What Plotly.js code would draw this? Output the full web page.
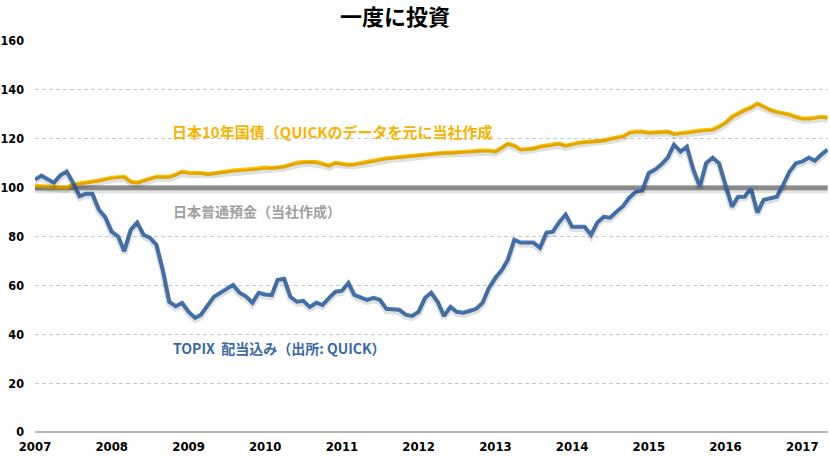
<!DOCTYPE html>
<html>
<head>
<meta charset="utf-8">
<script src="https://cdn.plot.ly/plotly-3.0.1.min.js"></script>
<style>
html,body{margin:0;padding:0;background:#fff;}
#chart{width:830px;height:458px;}
</style>
</head>
<body>
<div id="chart"></div>
<script>
// ---- Data (monthly, Jan 2007 .. May 2017) ----
const startYear = 2007;
const startMonth = 1;

const topix = [
  103.3,104.9,103.5,102,105,106.6,102,96.5,97.5,97.5,91,88,
  82,80,74,82.8,85.7,80.7,79.5,76.6,66,53.3,51.5,52.9,
  49.2,46.7,48,52,55.3,57,58.5,60.2,57,55.5,52.9,57,
  56.3,56,62.3,62.7,55.3,53.3,53.7,51.2,52.9,52,54.9,57.4,
  57.8,61,56.1,54.9,54.1,54.9,54.1,50.4,50.2,50,48,47.5,
  49.2,54.9,57,53.3,47.5,51.2,49.2,48.8,49.6,50.4,52.9,59,
  63.1,66.4,70.5,78.7,77.5,77.5,77.5,75.4,81.6,82,86,89,
  84,84,84,80.7,85.7,88.1,87.7,90.2,92.5,96,98.4,98.8,
  106,107.5,109.4,112.3,117.6,114.8,116.8,107.4,100.4,110,112.3,110,
  100.4,92.2,96.3,96.3,99.6,89.8,95,95.5,96.3,101,106.6,110,
  110.7,112.3,111,113.5,115.6
];

const jgb = [
  100.8,100.6,100.4,100.2,100,100,101.3,101.6,102,102.5,102.9,103.5,
  104.1,104.3,104.5,102.5,102,102.9,103.5,104.5,104.5,104.5,105.3,106.6,
  106.1,106.1,106,105.5,106,106.4,106.6,107,107.4,107.4,107.6,108,
  108.2,108,108.2,108.6,109.4,110.2,110.5,110.7,110.5,109.8,109,110.2,
  109.8,109.4,109.6,110,110.5,111.2,111.5,112,112.3,112.5,112.7,113,
  113.3,113.5,113.9,114.3,114.3,114.3,114.5,114.8,114.8,115,115.2,115.2,
  114.8,116.4,118,117.2,115.6,115.8,116,116.8,117.2,117.6,118,117.2,
  118,118.4,118.7,118.9,119.1,119.3,120,120.5,121,122.5,123,123,
  122.5,122.7,122.8,123,122,122.2,122.5,123,123.4,123.6,123.8,125,
  126.6,129,130.5,131.8,132.8,134.4,133.2,131.8,131,130.5,130,129,
  128.3,128.3,128.5,129,128.7
];

const depositValue = 100;

const titleText = "一度に投資";
const labelJgb = "日本10年国債（QUICKのデータを元に当社作成";
const labelDeposit = "日本普通預金（当社作成）";
const labelTopix = "TOPIX  配当込み（出所: QUICK）";
const yTicks = [0,20,40,60,80,100,120,140,160];

// ---- Build month dates ----
const dates = topix.map((_, i) => {
  const y = startYear + Math.floor((startMonth - 1 + i) / 12);
  const m = ((startMonth - 1 + i) % 12) + 1;
  return y + "-" + String(m).padStart(2, "0") + "-01";
});
const deposit = dates.map(() => depositValue);

const cBlue = "#4a7ebb";
const cGold = "#ffbf00";
const cGray = "#9c9c9c";
const shadow = "rgba(0,0,0,0.12)";

const numFont = "Liberation Sans Narrow, Arial Narrow, DejaVu Sans Condensed, sans-serif";
const jpFont = "Noto Sans CJK JP, sans-serif";

function shadowTrace(y, w) {
  return {x: dates, y: y, type: "scatter", mode: "lines", xaxis: "x2", yaxis: "y2",
          line: {color: shadow, width: w + 2, shape: "linear"}, hoverinfo: "skip", showlegend: false};
}

const traces = [
  shadowTrace(deposit, 5),
  shadowTrace(jgb, 4),
  shadowTrace(topix, 4),
  {x: dates, y: deposit, type: "scatter", mode: "lines", line: {color: cGray, width: 5}, showlegend: false},
  {x: dates, y: jgb, type: "scatter", mode: "lines", line: {color: cGold, width: 4}, showlegend: false},
  {x: dates, y: topix, type: "scatter", mode: "lines", line: {color: cBlue, width: 4}, showlegend: false}
];

const xRange = ["2007-01-01", "2017-05-03"];
const yRange = [0, 160];
const shadowShift = 0.9;

const layout = {
  width: 830, height: 458,
  margin: {l: 35, r: 2, t: 41, b: 26},
  paper_bgcolor: "#fff", plot_bgcolor: "#fff",
  showlegend: false,
  title: {text: "<b>" + titleText + "</b>", x: 395/830, xanchor: "center", y: 1 - 17.5/458, yanchor: "middle", yref: "container",
          font: {family: jpFont, size: 22, color: "#000", weight: 900}},
  xaxis: {type: "date", range: xRange, dtick: "M12", tick0: "2007-01-01", tickformat: "%Y",
          showgrid: false, zeroline: false, showline: false, ticks: "",
          tickfont: {family: numFont, size: 13, color: "#000", weight: "bold"}, ticklabelstandoff: 5},
  yaxis: {range: yRange, tickvals: yTicks, showgrid: true, gridcolor: "#c8c8c8", griddash: "4px,3px", gridwidth: 1,
          zeroline: true, zerolinecolor: "#b5b5b5", zerolinewidth: 2, showline: false, ticks: "",
          tickfont: {family: numFont, size: 12.5, color: "#000", weight: "bold"}, ticklabelstandoff: 10},
  xaxis2: {type: "date", overlaying: "x", range: [xRange[0], xRange[1]], visible: false, showgrid: false, zeroline: false},
  yaxis2: {overlaying: "y", range: [yRange[0] + shadowShift, yRange[1] + shadowShift], visible: false, showgrid: false, zeroline: false},
  annotations: [
    {text: "<b>" + labelJgb + "</b>", xref: "paper", yref: "y", x: (170-35)/793, y: 123, xanchor: "left", yanchor: "middle",
     showarrow: false, font: {family: jpFont, size: 15, color: "#f6b400"}},
    {text: "<b>" + labelDeposit + "</b>", xref: "paper", yref: "y", x: (171-35)/793, y: 90.5, xanchor: "left", yanchor: "middle",
     showarrow: false, font: {family: jpFont, size: 14, color: "#a0a0a0"}},
    {text: "<b>" + labelTopix + "</b>", xref: "paper", yref: "y", x: (171-35)/793, y: 34.5, xanchor: "left", yanchor: "middle",
     showarrow: false, font: {family: jpFont, size: 14, color: "#3a67a6"}}
  ]
};

Plotly.newPlot("chart", traces, layout, {staticPlot: true, displayModeBar: false});
</script>
</body>
</html>
